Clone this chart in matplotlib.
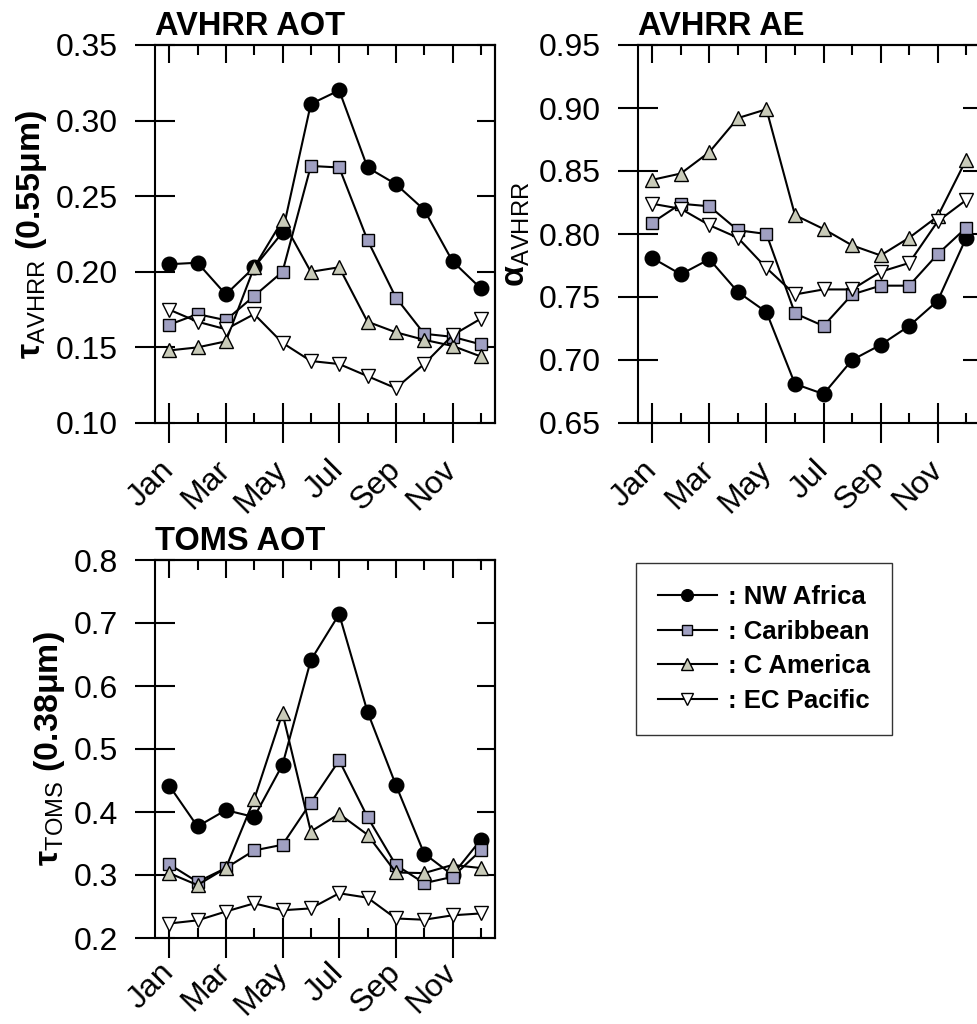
import matplotlib
matplotlib.use('Agg')
import matplotlib.pyplot as plt
from matplotlib.ticker import FormatStrFormatter

plt.rcParams['font.family'] = 'Liberation Sans'
plt.rcParams['mathtext.fontset'] = 'custom'
plt.rcParams['mathtext.rm'] = 'Liberation Sans'
plt.rcParams['mathtext.bf'] = 'Liberation Sans:bold'
plt.rcParams['mathtext.it'] = 'Liberation Sans:italic'

# --- data ---
months = list(range(1, 13))
month_ticks = [1, 3, 5, 7, 9, 11]
month_labels = ['Jan', 'Mar', 'May', 'Jul', 'Sep', 'Nov']
region_names = [': NW Africa', ': Caribbean', ': C America', ': EC Pacific']

# AVHRR AOT (0.55 um)
aot_nw_africa = [0.205, 0.206, 0.185, 0.203, 0.226, 0.311, 0.320, 0.269, 0.258, 0.241, 0.207, 0.189]
aot_caribbean = [0.165, 0.172, 0.168, 0.184, 0.200, 0.270, 0.269, 0.221, 0.183, 0.159, 0.157, 0.152]
aot_c_america = [0.148, 0.150, 0.154, 0.203, 0.234, 0.200, 0.203, 0.167, 0.160, 0.155, 0.151, 0.144]
aot_ec_pacific = [0.175, 0.167, 0.162, 0.172, 0.153, 0.141, 0.139, 0.131, 0.123, 0.139, 0.158, 0.169]

# AVHRR Angstrom exponent
ae_nw_africa = [0.781, 0.768, 0.780, 0.754, 0.738, 0.681, 0.673, 0.700, 0.712, 0.727, 0.747, 0.797]
ae_caribbean = [0.809, 0.824, 0.822, 0.803, 0.800, 0.737, 0.727, 0.752, 0.759, 0.759, 0.784, 0.805]
ae_c_america = [0.843, 0.848, 0.865, 0.892, 0.899, 0.815, 0.804, 0.791, 0.783, 0.797, 0.814, 0.859]
ae_ec_pacific = [0.824, 0.820, 0.807, 0.797, 0.773, 0.752, 0.756, 0.756, 0.770, 0.777, 0.810, 0.827]

# TOMS AOT (0.38 um)
toms_nw_africa = [0.442, 0.377, 0.403, 0.392, 0.475, 0.641, 0.714, 0.559, 0.443, 0.334, 0.300, 0.356]
toms_caribbean = [0.317, 0.289, 0.311, 0.339, 0.348, 0.415, 0.482, 0.392, 0.316, 0.287, 0.297, 0.339]
toms_c_america = [0.303, 0.284, 0.311, 0.420, 0.557, 0.369, 0.397, 0.364, 0.304, 0.303, 0.316, 0.311]
toms_ec_pacific = [0.223, 0.228, 0.242, 0.255, 0.244, 0.247, 0.271, 0.264, 0.231, 0.229, 0.236, 0.239]

# marker styles per region
styles = [
    dict(marker='o', ms=10.5, mfc='black', mec='black'),
    dict(marker='s', ms=9, mfc='#a0a0c2', mec='black'),
    dict(marker='^', ms=10, mfc='#c9cbb9', mec='black'),
    dict(marker='v', ms=10, mfc='white', mec='black'),
]

W, H = 977, 1024
fig = plt.figure(figsize=(W / 100, H / 100), dpi=100)


def px_axes(left, top, right, bottom):
    return fig.add_axes([left / W, 1 - bottom / H, (right - left) / W, (bottom - top) / H])


def setup(ax, ylim, ystep, fmt, title, ylabel, labelpad=5, xpad=16):
    ax.set_xlim(0.5, 12.5)
    ax.set_ylim(*ylim)
    n = int(round((ylim[1] - ylim[0]) / ystep))
    yt = [ylim[0] + i * ystep for i in range(n + 1)]
    ax.set_yticks(yt)
    ax.yaxis.set_major_formatter(FormatStrFormatter(fmt))
    ax.set_xticks(month_ticks)
    ax.set_xticks([2, 4, 6, 8, 10, 12], minor=True)
    ax.set_xticklabels(month_labels, rotation=45, ha='right', va='center',
                       rotation_mode='anchor')
    ax.tick_params(axis='both', which='major', direction='inout', length=29, width=1.5,
                   labelsize=23, top=False, right=False)
    ax.tick_params(axis='x', which='major', pad=xpad)
    ax.tick_params(axis='y', which='major', pad=12)
    ax.tick_params(axis='x', which='minor', direction='in', length=7, width=1.5, top=False)
    for s in ax.spines.values():
        s.set_linewidth(1.5)
    # inward ticks on the top and right sides
    sx = ax.secondary_xaxis('top')
    sx.set_xticks(month_ticks)
    sx.set_xticks([2, 4, 6, 8, 10, 12], minor=True)
    sx.tick_params(axis='x', which='major', direction='in', length=13, width=1.5, labeltop=False)
    sx.tick_params(axis='x', which='minor', direction='in', length=7, width=1.5, labeltop=False)
    sx.spines['top'].set_linewidth(1.5)
    sy = ax.secondary_yaxis('right')
    sy.set_yticks(yt)
    sy.tick_params(axis='y', direction='in', length=13, width=1.5, labelright=False)
    sy.spines['right'].set_linewidth(1.5)
    ax.set_title(title, loc='left', fontsize=23.5, fontweight='bold', pad=7)
    ax.set_ylabel(ylabel, fontsize=24.5, fontweight='bold', labelpad=labelpad)


def draw(ax, series):
    handles = []
    for vals, st in zip(series, styles):
        h, = ax.plot(months, vals, color='black', lw=1.5, mew=1.0, **st)
        handles.append(h)
    return handles


ax1 = px_axes(155, 45, 495, 423)
draw(ax1, [aot_nw_africa, aot_caribbean, aot_c_america, aot_ec_pacific])
setup(ax1, (0.10, 0.35), 0.05, '%.2f', 'AVHRR AOT',
      r'$\mathbf{\tau}_{\mathrm{AVHRR}}$ (0.55μm)')

ax2 = px_axes(638, 45, 980.5, 423)
draw(ax2, [ae_nw_africa, ae_caribbean, ae_c_america, ae_ec_pacific])
setup(ax2, (0.65, 0.95), 0.05, '%.2f', 'AVHRR AE',
      r'$\mathbf{\alpha}_{\mathrm{AVHRR}}$')

ax3 = px_axes(155, 560, 495, 938)
hs = draw(ax3, [toms_nw_africa, toms_caribbean, toms_c_america, toms_ec_pacific])
setup(ax3, (0.2, 0.8), 0.1, '%.1f', 'TOMS AOT',
      r'$\mathbf{\tau}_{\mathrm{TOMS}}$ (0.38μm)', xpad=7)

leg = fig.legend(hs, region_names, loc='upper left',
                 bbox_to_anchor=(636 / W, 1 - 563 / H), borderaxespad=0,
                 prop=dict(weight='bold', size=18.5), fancybox=False,
                 handlelength=2.3, handletextpad=0.45, labelspacing=0.42,
                 borderpad=0.85, markerscale=0.8)
leg.get_frame().set_edgecolor('black')
leg.get_frame().set_linewidth(1.0)

fig.savefig('out.png', dpi=100)
